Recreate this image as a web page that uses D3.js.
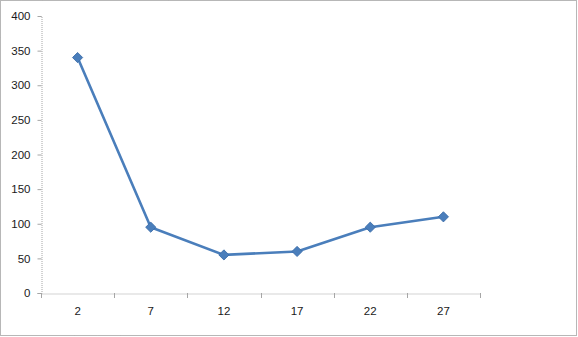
<!DOCTYPE html>
<html>
<head>
<meta charset="utf-8">
<script src="https://cdn.jsdelivr.net/npm/d3@7"></script>
<style>
body{margin:0;background:#fff;}
svg{display:block;font-family:"Open Sans","Liberation Sans",sans-serif;}
</style>
</head>
<body>
<svg id="chart" width="578" height="337"></svg>
<script>
var categories = ['2','7','12','17','22','27'];
var values = [340, 95, 55, 60, 95, 110];
var yTicks = [0,50,100,150,200,250,300,350,400];

var width = 578, height = 337;
var plot_left = 41, plot_right = 480, plot_top = 16, plot_bottom = 293;
var line_colour = '#4a7ebb';

var svg = d3.select('#chart');

// outer dotted frame
svg.append('rect').attr('x',0.5).attr('y',0.5).attr('width',width-2).attr('height',height-2)
    .attr('fill','none').attr('stroke','#6e6e6e').attr('stroke-dasharray','1,1');

var x = d3.scaleBand().domain(categories).range([plot_left,plot_right]);
var y = d3.scaleLinear().domain([0,400]).range([plot_bottom,plot_top]);

var yAxis = svg.append('g').attr('transform','translate('+(plot_left+0.5)+',0)')
    .call(d3.axisLeft(y).tickValues(yTicks).tickSize(4).tickPadding(7));
var xAxis = svg.append('g').attr('transform','translate(0,'+(plot_bottom+0.5)+')')
    .call(d3.axisBottom(x).tickSize(0).tickPadding(13));

[yAxis,xAxis].forEach(function(a){
    a.select('.domain').attr('stroke','#a6a6a6').attr('stroke-dasharray','1,1');
    a.selectAll('.tick line').attr('stroke','#a6a6a6');
    a.selectAll('.tick text').attr('fill','#1a1a1a').style('font-size','11.5px');
});

// x ticks at band edges
var edges = categories.map(function(c){return x(c);}).concat([plot_right]);
svg.append('g').selectAll('line').data(edges).enter().append('line')
    .attr('x1',function(d){return Math.round(d)+0.5;}).attr('x2',function(d){return Math.round(d)+0.5;})
    .attr('y1',plot_bottom).attr('y2',plot_bottom+5).attr('stroke','#a6a6a6');

var pts = categories.map(function(c,i){return {c:c,v:values[i]};});
var cx = function(d){return x(d.c)+x.bandwidth()/2;};

svg.append('path').datum(pts)
    .attr('d', d3.line().x(cx).y(function(d){return y(d.v);}))
    .attr('fill','none').attr('stroke',line_colour).attr('stroke-width',2.6).attr('stroke-linejoin','round');

// square diamonds: a square turned 45 degrees
svg.append('g').selectAll('path').data(pts).enter().append('path')
    .attr('d', d3.symbol().type(d3.symbolSquare).size(52))
    .attr('transform',function(d){return 'translate('+cx(d)+','+y(d.v)+') rotate(45)';})
    .attr('fill',line_colour).attr('stroke','#3a6ca8').attr('stroke-width',0.8);
</script>
</body>
</html>
